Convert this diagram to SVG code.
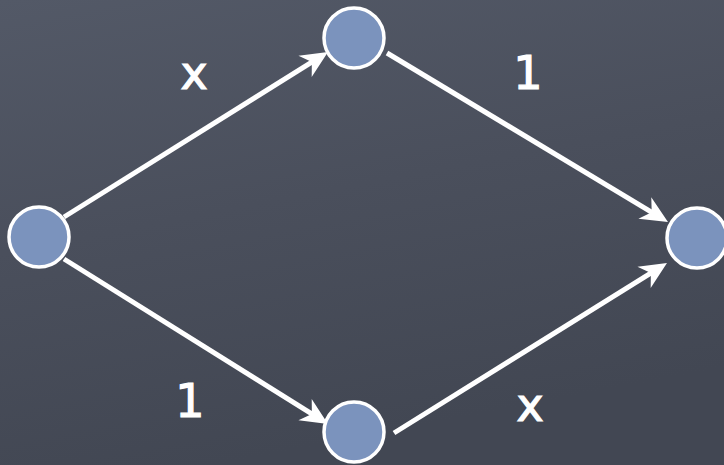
<svg xmlns="http://www.w3.org/2000/svg" width="724" height="465" viewBox="0 0 724 465">
<defs>
<linearGradient id="bg" x1="0" y1="0" x2="0.3" y2="1">
<stop offset="0" stop-color="#535967"/>
<stop offset="0.5" stop-color="#4a4f5c"/>
<stop offset="1" stop-color="#424753"/>
</linearGradient>
<marker id="arr" markerUnits="userSpaceOnUse" markerWidth="30" markerHeight="30" refX="16" refY="15" orient="auto">
<path d="M28,15 L1,2.5 L9,15 L1,27.5 Z" fill="#ffffff"/>
</marker>
</defs>
<style>
.node{fill:#7b93bd;stroke:#ffffff;stroke-width:3.5}
.edge{stroke:#ffffff;stroke-width:5;fill:none;marker-end:url(#arr)}
.lbl{fill:#ffffff;stroke:#ffffff;stroke-width:1.2;font-family:"DejaVu Sans",sans-serif;font-size:46px;text-anchor:middle}
</style>
<rect width="724" height="465" fill="url(#bg)"/>
<g id="connectors">
<path class="edge" d="M64,217 L317.8,58.4"/>
<path class="edge" d="M387,53 L657.7,215.8"/>
<path class="edge" d="M64,259 L317.8,417.6"/>
<path class="edge" d="M394,433 L656.8,269.4"/>
</g>
<g id="node-left"><circle class="node" cx="39" cy="237" r="30"/></g>
<g id="node-top"><circle class="node" cx="354" cy="38" r="30"/></g>
<g id="node-right"><circle class="node" cx="697" cy="238" r="30"/></g>
<g id="node-bottom"><circle class="node" cx="354" cy="432" r="30"/></g>
<g id="labels">
<text class="lbl" x="194" y="89">x</text>
<text class="lbl" x="528" y="89">1</text>
<text class="lbl" x="190" y="417">1</text>
<text class="lbl" x="530" y="421">x</text>
</g>
</svg>
